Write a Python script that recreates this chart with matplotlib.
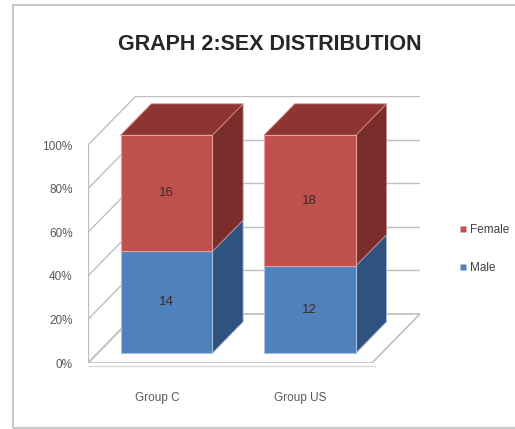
import matplotlib
matplotlib.use("Agg")
import matplotlib.pyplot as plt
from matplotlib.patches import Polygon, Rectangle
from matplotlib.lines import Line2D
import numpy as np

plt.rcParams['font.family'] = ['Liberation Sans', 'DejaVu Sans']

categories = ["Group C", "Group US"]
male = [14, 12]
female = [16, 18]
series_names = ["Female", "Male"]
yticks = [0, 20, 40, 60, 80, 100]
ytick_labels = ["0%", "20%", "40%", "60%", "80%", "100%"]
title = "GRAPH 2:SEX DISTRIBUTION"

male_c = {'front': '#4F81BD', 'side': '#2F5280', 'top': '#3A6495'}
fem_c = {'front': '#C0504D', 'side': '#7A2D2B', 'top': '#8E3532'}
grid_c = '#BFBFBF'

W, H = 515, 429
fig = plt.figure(figsize=(W / 100, H / 100), dpi=100)

# outer frame
fig.patches.append(Rectangle((13 / W, 1 - 428 / H), (W - 13 + 10) / W, (428 - 5) / H,
                             transform=fig.transFigure, fill=False, edgecolor='#C8C8C8',
                             linewidth=1.5, zorder=0))

ax = fig.add_axes([88 / W, 1 - 363 / H, (420 - 88) / W, (363 - 96) / H])
x0, x1 = -0.48, 1.5
DX, DY = 0.335, 22.5
ax.set_xlim(x0, x1 + DX)
ax.set_ylim(0, 100 + DY)
for s in ax.spines.values():
    s.set_visible(False)

# floor
floor = Polygon([(x0, 0), (x1, 0), (x1 + DX, DY), (x0 + DX, DY)], closed=True,
                facecolor='white', edgecolor=grid_c, linewidth=1.2, zorder=1)
ax.add_patch(floor)
ax.plot([x0 + 0.01, x1 + 0.02], [-1.2, -1.2], color='#D9D9D9', lw=1.0, zorder=1, clip_on=False)

# walls / gridlines
ax.plot([x0, x0], [0, 100], color=grid_c, lw=1.0, zorder=1)
for v in yticks:
    ax.plot([x0, x0 + DX], [v, v + DY], color=grid_c, lw=1.0, zorder=1)
    if v > 0:
        ax.plot([x0 + DX, x1 + DX], [v + DY, v + DY], color=grid_c, lw=1.0, zorder=1)

# bars
tot = np.array(male) + np.array(female)
male_p = np.array(male) / tot * 100
fem_p = np.array(female) / tot * 100
xs = np.arange(len(categories))
f = 0.2
d = 0.64
w = 0.64
fdx, fdy = f * DX, f * DY
bdx, bdy = d * DX, d * DY

for i, xc in enumerate(xs):
    left = xc - w / 2 + fdx
    right = xc + w / 2 + fdx
    segs = [(fdy, male_p[i], male_c, male[i]), (fdy + male_p[i], fem_p[i], fem_c, female[i])]
    for j, (b, h, col, val) in enumerate(segs):
        side = Polygon([(right, b), (right + bdx, b + bdy), (right + bdx, b + h + bdy), (right, b + h)],
                       closed=True, facecolor=col['side'], edgecolor='#9FB6D6' if j == 0 else '#C98A88',
                       linewidth=0.6, zorder=3)
        ax.add_patch(side)
        ax.bar(left, h, width=w, bottom=b, align='edge', color=col['front'],
               edgecolor='#A9C1E0' if j == 0 else '#E0A09E', linewidth=0.8, zorder=4)
        ax.text(left + w / 2, b + h / 2, str(val), ha='center', va='center',
                fontsize=9.5, color='#3A2A2A', zorder=6)
    topb = fdy + male_p[i] + fem_p[i]
    top = Polygon([(left, topb), (right, topb), (right + bdx, topb + bdy), (left + bdx, topb + bdy)],
                  closed=True, facecolor=fem_c['top'], edgecolor='#C98A88', linewidth=0.6, zorder=3)
    ax.add_patch(top)

ax.set_yticks(yticks)
ax.set_yticklabels(ytick_labels, fontsize=8.5, color='#595959')
ax.set_xticks(xs)
ax.set_xticklabels(categories, fontsize=8.5, color='#595959')
ax.tick_params(axis='y', length=0, pad=11)
ax.tick_params(axis='x', length=0, pad=21)

# legend
handles = [Line2D([0], [0], marker='s', color='none', markerfacecolor=fem_c['front'],
                  markeredgecolor='none', markersize=5),
           Line2D([0], [0], marker='s', color='none', markerfacecolor=male_c['front'],
                  markeredgecolor='none', markersize=5)]
fig.legend(handles, series_names, loc='center left', bbox_to_anchor=(449 / W, 1 - 249 / H),
           frameon=False, fontsize=8.5, handlelength=0.6, handletextpad=0.3, labelspacing=2.2,
           labelcolor='#404040')

fig.text(270 / W, 1 - 45 / H, title, ha='center', va='center', fontsize=15.5,
         fontweight='bold', color='#262626')

fig.savefig('out.png', dpi=100)
